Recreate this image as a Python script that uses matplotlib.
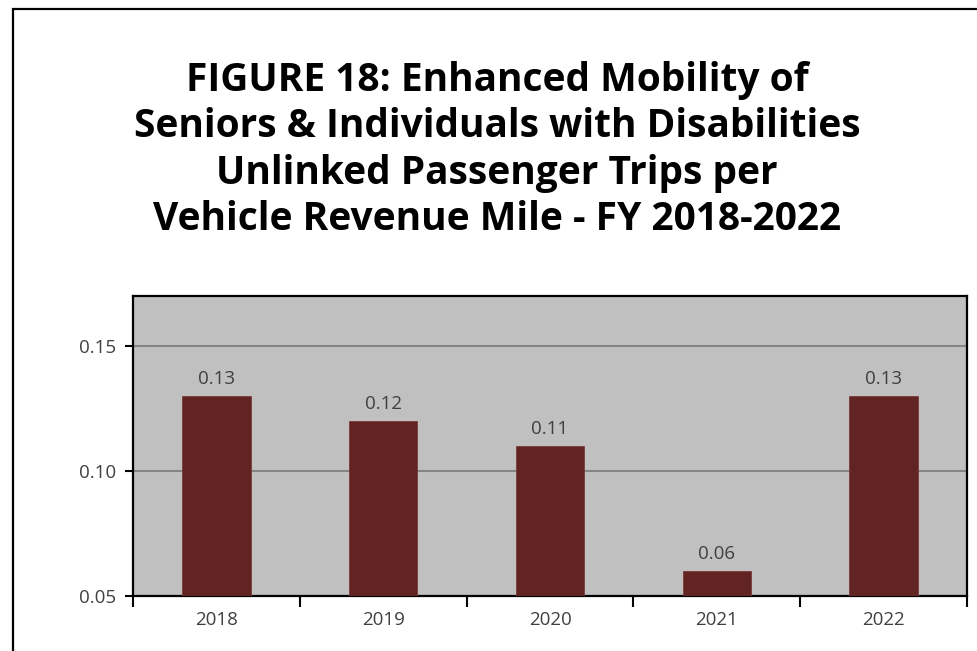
import numpy as np
import matplotlib
matplotlib.use('Agg')
import matplotlib.pyplot as plt
from matplotlib.patches import Rectangle

# data
years = ['2018', '2019', '2020', '2021', '2022']
trips_per_mile = [0.13, 0.12, 0.11, 0.06, 0.13]

title = ('FIGURE 18: Enhanced Mobility of\n'
         'Seniors & Individuals with Disabilities\n'
         'Unlinked Passenger Trips per\n'
         'Vehicle Revenue Mile - FY 2018-2022')

LABEL_FONT = 'Open Sans'

fig = plt.figure(figsize=(9.78, 6.51), dpi=100)
ax = fig.add_axes([133/978, 55/651, 834/978, 300/651])

# outer frame of the figure
fig.patches.append(Rectangle((13/978, -0.05), 1.2, 1 - 9/651 + 0.05,
                             transform=fig.transFigure, fill=False,
                             edgecolor='black', linewidth=1.6))

fig.text(497/978, 1 - 150/651, title, ha='center', va='center',
         fontsize=28, fontweight='bold', family='Open Sans', linespacing=1.24)

x = np.arange(len(years))
ax.set_facecolor('#C0C0C0')
bars = ax.bar(x, trips_per_mile, width=0.41, color='#622323',
              edgecolor='#7a3a3a', linewidth=0.6, zorder=3)
ax.bar_label(bars, labels=[f'{v:.2f}' for v in trips_per_mile], padding=6,
             fontsize=13.5, color='#404040', family=LABEL_FONT)

ax.set_xlim(-0.5, len(years) - 0.5)
ax.set_ylim(0.05, 0.17)
ax.set_yticks([0.05, 0.10, 0.15])
ax.set_yticklabels(['0.05', '0.10', '0.15'])
ax.yaxis.grid(True, color='#858585', linewidth=1.5, zorder=1)
ax.set_axisbelow(True)

# ticks between categories, labels centered under the bars
ax.set_xticks(np.arange(-0.5, len(years)), minor=False)
ax.set_xticklabels([])
ax.set_xticks(x, minor=True)
ax.set_xticklabels(years, minor=True)
ax.tick_params(axis='x', which='major', length=8, width=1.5, direction='out')
ax.tick_params(axis='x', which='minor', length=0, pad=11,
               labelsize=13.5, labelcolor='#404040')
ax.tick_params(axis='y', length=6, width=1.5, direction='out', pad=6,
               labelsize=13.5, labelcolor='#404040')
for lbl in ax.get_xticklabels(minor=True) + ax.get_yticklabels():
    lbl.set_family(LABEL_FONT)

for s in ax.spines.values():
    s.set_linewidth(1.6)
    s.set_color('black')

fig.savefig('out.png', dpi=100)
